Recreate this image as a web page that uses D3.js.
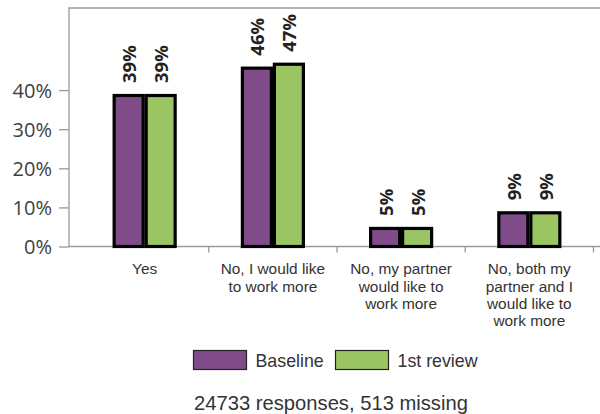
<!DOCTYPE html>
<html><head><meta charset="utf-8">
<script src="https://cdn.jsdelivr.net/npm/d3@7"></script>
<style>body{margin:0;background:#fff}svg{display:block}</style>
</head><body>
<script>
const categories = [["Yes"],["No, I would like","to work more"],["No, my partner","would like to","work more"],["No, both my","partner and I","would like to","work more"]];
const seriesNames = ["Baseline","1st review"];
const baseline = [39,46,5,9];
const review1 = [39,47,5,9];
const yTicks = [0,10,20,30,40];
const colors = ["#7f4c89","#9bc563"];

(function(){
const W=600,H=414;
const svg=d3.select("body").append("svg").attr("width",W).attr("height",H);
const pL=69, pR=605, pT=8, pB=246.5;
const x=d3.scaleBand().domain(d3.range(categories.length)).range([pL,pR]).paddingOuter(0.09).paddingInner(0);
const y=d3.scaleLinear().domain([0,61]).range([pB,pT]);
const barW=32;
const xs=d3.scaleBand().domain([0,1]).range([-barW, barW]);

// frame
svg.append("path").attr("d",`M${pR},${pT}H${pL}V${pB}H${pR}`).attr("fill","none").attr("stroke","#9a9a9a").attr("stroke-width",1.3);

// y axis
const ya=svg.append("g").attr("transform",`translate(${pL},0)`).call(d3.axisLeft(y).tickValues(yTicks).tickFormat(d=>d+"%").tickSize(10).tickPadding(7));
ya.select(".domain").remove();
ya.selectAll("line").attr("stroke","#9a9a9a").attr("stroke-width",1.3);
ya.selectAll("text").attr("font-family","Open Sans, sans-serif").attr("font-size",20).attr("fill","#404040").attr("dy","0.36em");

// x axis
const xa=svg.append("g").attr("transform",`translate(0,${pB})`).call(d3.axisBottom(x).tickSize(6).tickFormat(""));
xa.select(".domain").remove();
xa.selectAll("line").attr("stroke","#9a9a9a").attr("stroke-width",1.3).attr("transform",`translate(${x.bandwidth()/2},0)`);
categories.forEach((lines,i)=>{
  const t=svg.append("text").attr("x",x(i)+x.bandwidth()/2).attr("y",274.3).attr("text-anchor","middle")
   .attr("font-family","Liberation Sans, Arial, sans-serif").attr("font-size",15.4).attr("fill","#333");
  lines.forEach((l,j)=>t.append("tspan").attr("x",x(i)+x.bandwidth()/2).attr("dy",j?17.3:0).text(l));
});

// bars
const data=[baseline,review1];
data.forEach((vals,s)=>{
  const g=svg.append("g");
  vals.forEach((v,i)=>{
    const cx=x(i)+x.bandwidth()/2;
    const bx=cx+xs(s);
    g.append("rect").attr("x",bx+1.5).attr("y",y(v)+1.5).attr("width",barW-3).attr("height",pB-y(v)-1.5)
     .attr("fill",colors[s]).attr("stroke","#000").attr("stroke-width",3.2);
    const lx=bx+barW/2+7.5, ly=y(v)-11;
    g.append("text").attr("transform",`translate(${lx},${ly}) rotate(-90)`).attr("text-anchor","start")
     .attr("font-family","Open Sans, sans-serif").attr("font-weight","bold").attr("font-size",18.5).attr("fill","#222").text(v+"%");
  });
});

// legend
const lg=svg.append("g");
const legX=[193.5,335.5];
seriesNames.forEach((n,s)=>{
  lg.append("rect").attr("x",legX[s]).attr("y",350.5).attr("width",53).attr("height",19).attr("fill",colors[s]).attr("stroke","#222").attr("stroke-width",1.2);
  lg.append("text").attr("x",legX[s]+62).attr("y",367.3).attr("font-family","Liberation Sans, Arial, sans-serif").attr("font-size",17.8).attr("fill","#333").text(n);
});
svg.append("text").attr("x",331).attr("y",410).attr("text-anchor","middle").attr("font-family","Liberation Sans, Arial, sans-serif").attr("font-size",20.2).attr("fill","#333").text("24733 responses, 513 missing");
})();
</script>
</body></html>
